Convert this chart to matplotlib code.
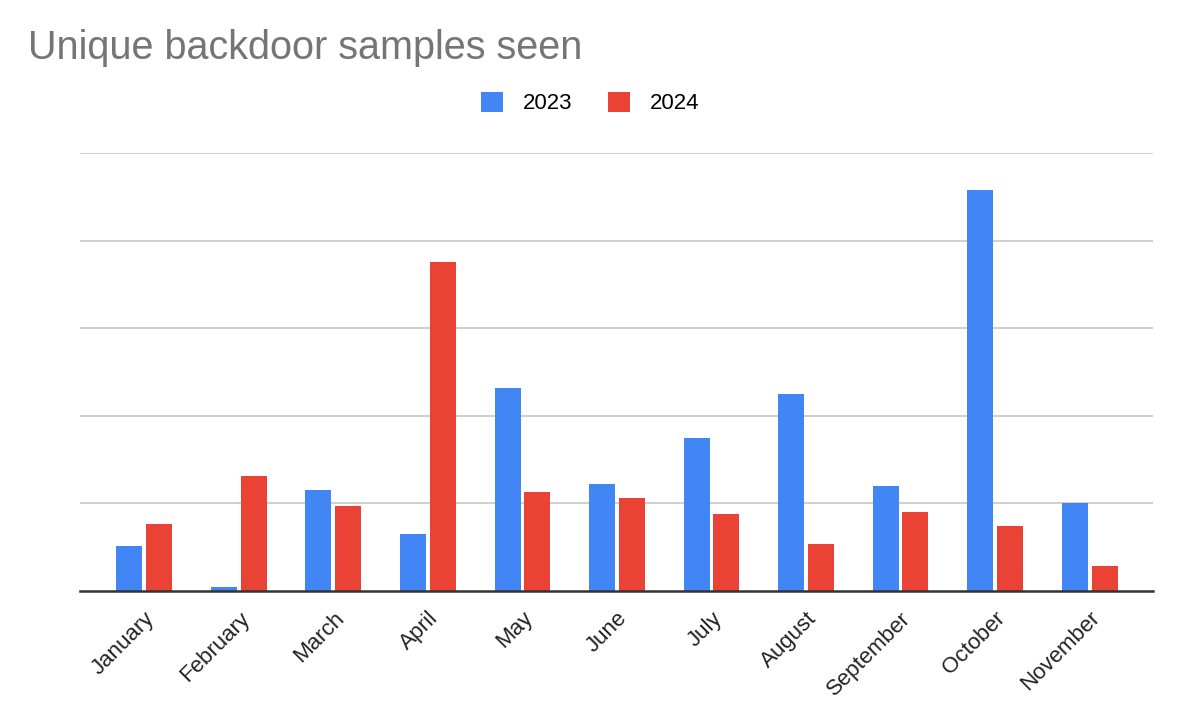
import matplotlib.pyplot as plt
import numpy as np

plt.rcParams["font.family"] = ["Liberation Sans", "DejaVu Sans"]

# ================== DATA ==================
months = ["January", "February", "March", "April", "May", "June",
          "July", "August", "September", "October", "November"]
samples_2023 = [5.1, 0.5, 11.5, 6.5, 23.2, 12.2, 17.5, 22.5, 12.0, 45.8, 10.1]
samples_2024 = [7.6, 13.1, 9.7, 37.6, 11.3, 10.6, 8.8, 5.4, 9.0, 7.4, 2.8]
series_labels = ["2023", "2024"]

COLOR_2023 = "#4285F4"
COLOR_2024 = "#EA4335"

fig = plt.figure(figsize=(11.8, 7.22), dpi=100)
ax = fig.add_axes([80 / 1180, 1 - 591 / 722, (1153 - 80) / 1180, (591 - 153) / 722])

x = np.arange(len(months))
width = 0.275
gap = 0.02
ax.bar(x - width / 2 - gap, samples_2023, width, color=COLOR_2023,
       label=series_labels[0], zorder=2)
ax.bar(x + width / 2 + gap, samples_2024, width, color=COLOR_2024,
       label=series_labels[1], zorder=2)

ax.set_xlim(-0.68, len(months) - 1 + 0.67)
ax.set_ylim(0, 50)
ax.set_yticks([10, 20, 30, 40, 50])
ax.set_yticklabels([])
ax.tick_params(axis="y", length=0)
ax.grid(axis="y", color="#cccccc", linewidth=1.3, zorder=0)
ax.set_axisbelow(True)

for s in ["top", "right", "left"]:
    ax.spines[s].set_visible(False)
ax.spines["bottom"].set_color("#333333")
ax.spines["bottom"].set_linewidth(1.8)
ax.spines["bottom"].set_zorder(3)

ax.set_xticks(x)
ax.set_xticklabels(months, rotation=45, ha="right", rotation_mode="anchor",
                   fontsize=16, color="#222222")
ax.tick_params(axis="x", length=0, pad=12)

fig.text(28 / 1180, 1 - 48 / 722, "Unique backdoor samples seen",
         fontsize=28.5, color="#757575", va="center", ha="left")

fig.legend(loc="center", bbox_to_anchor=(590 / 1180, 1 - 103 / 722), ncol=2,
           frameon=False, fontsize=16, handlelength=1.0, handleheight=1.0,
           handletextpad=0.9, columnspacing=1.6)

plt.savefig("out.png", dpi=100)
